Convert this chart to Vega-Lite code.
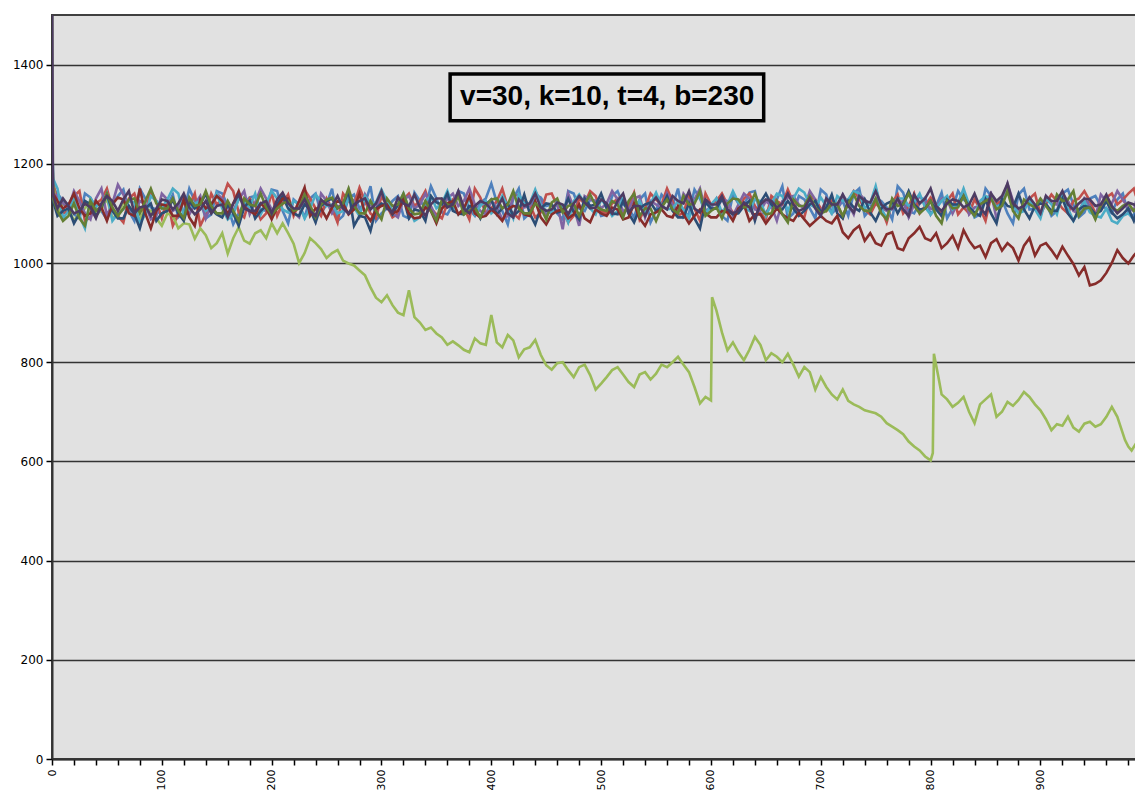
{
"$schema": "https://vega.github.io/schema/vega-lite/v6.json",
"width": 1084, "height": 744,
"autosize": {"type": "none"},
"padding": {"left": 52, "top": 15, "right": 0, "bottom": 33},
"background": "white",
"config": {"view": {"fill": "#E1E1E1", "stroke": "#404040", "strokeWidth": 2}, "font": "DejaVu Sans"},
"layer": [
{
"data": {"values": [
{"x":0,"a":1275,"b":1230,"c":1230,"d":1160,"e":1270,"f":1220,"g":1235,"h":1200,"i":1500},
{"x":1,"a":1150,"b":1165,"c":1160,"d":1140,"e":1170,"f":1125,"g":1140,"h":1130,"i":1135},
{"x":5,"a":1140,"b":1120,"c":1100,"d":1135,"e":1150,"f":1095,"g":1125,"h":1105,"i":1110},
{"x":10,"a":1125,"b":1100,"c":1120,"d":1120,"e":1090,"f":1105,"g":1110,"h":1085,"i":1130},
{"x":15,"a":1118,"b":1105,"c":1110,"d":1110,"e":1105,"f":1110,"g":1118,"h":1095,"i":1115},
{"x":20,"a":1098,"b":1135,"c":1085,"d":1145,"e":1128,"f":1080,"g":1140,"h":1120,"i":1100},
{"x":25,"a":1090,"b":1145,"c":1100,"d":1125,"e":1095,"f":1100,"g":1110,"h":1090,"i":1105},
{"x":30,"a":1140,"b":1085,"c":1110,"d":1100,"e":1070,"f":1125,"g":1095,"h":1075,"i":1120},
{"x":35,"a":1132,"b":1092,"c":1125,"d":1088,"e":1130,"f":1118,"g":1100,"h":1125,"i":1112},
{"x":40,"a":1110,"b":1120,"c":1095,"d":1130,"e":1115,"f":1095,"g":1125,"h":1105,"i":1090},
{"x":45,"a":1105,"b":1128,"c":1108,"d":1150,"e":1118,"f":1112,"g":1112,"h":1115,"i":1120},
{"x":50,"a":1088,"b":1150,"c":1130,"d":1095,"e":1140,"f":1138,"g":1085,"h":1140,"i":1135},
{"x":55,"a":1120,"b":1110,"c":1090,"d":1120,"e":1085,"f":1105,"g":1118,"h":1112,"i":1125},
{"x":60,"a":1135,"b":1095,"c":1100,"d":1158,"e":1100,"f":1090,"g":1132,"h":1095,"i":1105},
{"x":65,"a":1148,"b":1082,"c":1122,"d":1138,"e":1108,"f":1090,"g":1128,"h":1110,"i":1128},
{"x":70,"a":1105,"b":1130,"c":1115,"d":1110,"e":1125,"f":1115,"g":1100,"h":1128,"i":1145},
{"x":75,"a":1085,"b":1140,"c":1098,"d":1100,"e":1122,"f":1098,"g":1095,"h":1130,"i":1100},
{"x":80,"a":1150,"b":1108,"c":1088,"d":1125,"e":1080,"f":1070,"g":1150,"h":1100,"i":1112},
{"x":85,"a":1130,"b":1100,"c":1110,"d":1118,"e":1098,"f":1110,"g":1100,"h":1125,"i":1115},
{"x":90,"a":1112,"b":1145,"c":1105,"d":1088,"e":1135,"f":1120,"g":1070,"h":1150,"i":1095},
{"x":95,"a":1108,"b":1125,"c":1090,"d":1095,"e":1125,"f":1085,"g":1105,"h":1120,"i":1110},
{"x":100,"a":1095,"b":1090,"c":1075,"d":1140,"e":1110,"f":1100,"g":1118,"h":1110,"i":1128},
{"x":105,"a":1115,"b":1130,"c":1100,"d":1128,"e":1128,"f":1105,"g":1115,"h":1110,"i":1125},
{"x":110,"a":1138,"b":1075,"c":1095,"d":1105,"e":1150,"f":1128,"g":1095,"h":1130,"i":1108},
{"x":115,"a":1092,"b":1098,"c":1070,"d":1112,"e":1140,"f":1100,"g":1095,"h":1105,"i":1120},
{"x":120,"a":1102,"b":1125,"c":1080,"d":1132,"e":1095,"f":1085,"g":1128,"h":1090,"i":1140},
{"x":125,"a":1150,"b":1115,"c":1078,"d":1098,"e":1108,"f":1125,"g":1092,"h":1132,"i":1112},
{"x":130,"a":1125,"b":1140,"c":1049,"d":1118,"e":1120,"f":1110,"g":1075,"h":1115,"i":1098},
{"x":135,"a":1125,"b":1075,"c":1070,"d":1135,"e":1125,"f":1118,"g":1128,"h":1118,"i":1108},
{"x":140,"a":1090,"b":1098,"c":1056,"d":1090,"e":1105,"f":1140,"g":1110,"h":1145,"i":1125},
{"x":145,"a":1098,"b":1140,"c":1030,"d":1118,"e":1115,"f":1108,"g":1118,"h":1115,"i":1100},
{"x":150,"a":1145,"b":1118,"c":1040,"d":1140,"e":1140,"f":1098,"g":1135,"h":1100,"i":1115},
{"x":155,"a":1140,"b":1128,"c":1060,"d":1130,"e":1110,"f":1092,"g":1125,"h":1100,"i":1118},
{"x":160,"a":1115,"b":1160,"c":1019,"d":1112,"e":1088,"f":1118,"g":1098,"h":1125,"i":1092},
{"x":165,"a":1078,"b":1145,"c":1050,"d":1105,"e":1098,"f":1100,"g":1120,"h":1105,"i":1120},
{"x":170,"a":1100,"b":1102,"c":1072,"d":1128,"e":1130,"f":1075,"g":1145,"h":1085,"i":1138},
{"x":175,"a":1120,"b":1092,"c":1045,"d":1145,"e":1125,"f":1112,"g":1112,"h":1130,"i":1110},
{"x":180,"a":1132,"b":1130,"c":1039,"d":1098,"e":1112,"f":1125,"g":1105,"h":1118,"i":1105},
{"x":185,"a":1135,"b":1118,"c":1060,"d":1122,"e":1140,"f":1090,"g":1098,"h":1115,"i":1105},
{"x":190,"a":1108,"b":1088,"c":1066,"d":1150,"e":1098,"f":1105,"g":1120,"h":1140,"i":1120},
{"x":195,"a":1105,"b":1100,"c":1050,"d":1130,"e":1120,"f":1115,"g":1110,"h":1112,"i":1125},
{"x":200,"a":1148,"b":1142,"c":1080,"d":1108,"e":1145,"f":1092,"g":1088,"h":1098,"i":1100},
{"x":205,"a":1145,"b":1095,"c":1060,"d":1112,"e":1130,"f":1118,"g":1112,"h":1110,"i":1128},
{"x":210,"a":1105,"b":1120,"c":1080,"d":1130,"e":1108,"f":1135,"g":1130,"h":1120,"i":1142},
{"x":215,"a":1080,"b":1138,"c":1060,"d":1125,"e":1102,"f":1110,"g":1130,"h":1125,"i":1120},
{"x":220,"a":1128,"b":1095,"c":1039,"d":1102,"e":1125,"f":1100,"g":1100,"h":1105,"i":1110},
{"x":225,"a":1118,"b":1120,"c":1000,"d":1092,"e":1118,"f":1095,"g":1125,"h":1110,"i":1110},
{"x":230,"a":1092,"b":1148,"c":1020,"d":1140,"e":1090,"f":1118,"g":1152,"h":1138,"i":1128},
{"x":235,"a":1130,"b":1130,"c":1050,"d":1118,"e":1110,"f":1108,"g":1095,"h":1115,"i":1105},
{"x":240,"a":1140,"b":1110,"c":1040,"d":1085,"e":1138,"f":1082,"g":1110,"h":1092,"i":1095},
{"x":245,"a":1100,"b":1095,"c":1028,"d":1140,"e":1125,"f":1115,"g":1110,"h":1118,"i":1128},
{"x":250,"a":1118,"b":1130,"c":1010,"d":1125,"e":1115,"f":1125,"g":1090,"h":1128,"i":1118},
{"x":255,"a":1150,"b":1110,"c":1020,"d":1100,"e":1118,"f":1130,"g":1112,"h":1132,"i":1115},
{"x":260,"a":1085,"b":1082,"c":1026,"d":1115,"e":1100,"f":1110,"g":1125,"h":1110,"i":1135},
{"x":265,"a":1095,"b":1140,"c":1005,"d":1110,"e":1105,"f":1118,"g":1120,"h":1120,"i":1110},
{"x":270,"a":1130,"b":1125,"c":999,"d":1135,"e":1130,"f":1145,"g":1098,"h":1150,"i":1100},
{"x":275,"a":1138,"b":1118,"c":995,"d":1125,"e":1112,"f":1075,"g":1108,"h":1115,"i":1118},
{"x":280,"a":1110,"b":1152,"c":985,"d":1095,"e":1095,"f":1095,"g":1140,"h":1100,"i":1125},
{"x":285,"a":1120,"b":1125,"c":975,"d":1138,"e":1135,"f":1092,"g":1100,"h":1100,"i":1130},
{"x":290,"a":1155,"b":1100,"c":951,"d":1118,"e":1120,"f":1065,"g":1085,"h":1125,"i":1108},
{"x":295,"a":1085,"b":1090,"c":930,"d":1108,"e":1122,"f":1110,"g":1108,"h":1105,"i":1120},
{"x":300,"a":1100,"b":1135,"c":921,"d":1145,"e":1148,"f":1120,"g":1115,"h":1088,"i":1145},
{"x":305,"a":1110,"b":1115,"c":935,"d":1120,"e":1125,"f":1115,"g":1118,"h":1130,"i":1110},
{"x":310,"a":1125,"b":1092,"c":915,"d":1100,"e":1105,"f":1098,"g":1100,"h":1115,"i":1102},
{"x":315,"a":1135,"b":1100,"c":900,"d":1092,"e":1115,"f":1118,"g":1105,"h":1118,"i":1132},
{"x":320,"a":1095,"b":1128,"c":895,"d":1128,"e":1140,"f":1130,"g":1128,"h":1140,"i":1120},
{"x":325,"a":1090,"b":1140,"c":945,"d":1135,"e":1110,"f":1090,"g":1100,"h":1110,"i":1115},
{"x":330,"a":1142,"b":1115,"c":891,"d":1110,"e":1085,"f":1108,"g":1090,"h":1098,"i":1138},
{"x":335,"a":1125,"b":1125,"c":880,"d":1118,"e":1092,"f":1105,"g":1092,"h":1100,"i":1112},
{"x":340,"a":1112,"b":1145,"c":865,"d":1140,"e":1125,"f":1085,"g":1112,"h":1125,"i":1095},
{"x":345,"a":1155,"b":1110,"c":870,"d":1115,"e":1135,"f":1135,"g":1105,"h":1105,"i":1118},
{"x":350,"a":1130,"b":1098,"c":858,"d":1092,"e":1110,"f":1122,"g":1080,"h":1085,"i":1130},
{"x":355,"a":1102,"b":1090,"c":850,"d":1110,"e":1120,"f":1118,"g":1110,"h":1128,"i":1130},
{"x":360,"a":1098,"b":1120,"c":835,"d":1130,"e":1145,"f":1140,"g":1120,"h":1118,"i":1112},
{"x":365,"a":1118,"b":1128,"c":842,"d":1140,"e":1115,"f":1105,"g":1125,"h":1115,"i":1118},
{"x":370,"a":1145,"b":1140,"c":834,"d":1115,"e":1098,"f":1100,"g":1098,"h":1135,"i":1145},
{"x":375,"a":1140,"b":1112,"c":825,"d":1125,"e":1108,"f":1098,"g":1110,"h":1098,"i":1110},
{"x":380,"a":1108,"b":1088,"c":820,"d":1150,"e":1130,"f":1115,"g":1135,"h":1105,"i":1100},
{"x":385,"a":1095,"b":1150,"c":848,"d":1118,"e":1098,"f":1112,"g":1100,"h":1112,"i":1115},
{"x":390,"a":1122,"b":1132,"c":838,"d":1105,"e":1115,"f":1090,"g":1092,"h":1092,"i":1125},
{"x":395,"a":1130,"b":1098,"c":835,"d":1098,"e":1125,"f":1118,"g":1095,"h":1115,"i":1120},
{"x":400,"a":1160,"b":1110,"c":895,"d":1125,"e":1100,"f":1128,"g":1108,"h":1128,"i":1108},
{"x":405,"a":1122,"b":1125,"c":840,"d":1112,"e":1110,"f":1098,"g":1098,"h":1130,"i":1110},
{"x":410,"a":1105,"b":1150,"c":830,"d":1088,"e":1135,"f":1110,"g":1085,"h":1110,"i":1130},
{"x":415,"a":1078,"b":1112,"c":855,"d":1095,"e":1115,"f":1120,"g":1108,"h":1118,"i":1100},
{"x":420,"a":1130,"b":1100,"c":844,"d":1135,"e":1090,"f":1095,"g":1115,"h":1145,"i":1092},
{"x":425,"a":1150,"b":1090,"c":810,"d":1138,"e":1138,"f":1105,"g":1112,"h":1110,"i":1128},
{"x":430,"a":1090,"b":1125,"c":826,"d":1112,"e":1120,"f":1138,"g":1098,"h":1100,"i":1115},
{"x":435,"a":1100,"b":1118,"c":830,"d":1115,"e":1120,"f":1100,"g":1095,"h":1100,"i":1120},
{"x":440,"a":1138,"b":1092,"c":845,"d":1145,"e":1148,"f":1078,"g":1125,"h":1120,"i":1140},
{"x":445,"a":1132,"b":1102,"c":815,"d":1125,"e":1118,"f":1110,"g":1092,"h":1112,"i":1112},
{"x":450,"a":1115,"b":1138,"c":794,"d":1098,"e":1105,"f":1120,"g":1078,"h":1088,"i":1105},
{"x":455,"a":1118,"b":1140,"c":785,"d":1105,"e":1100,"f":1118,"g":1098,"h":1122,"i":1108},
{"x":460,"a":1100,"b":1115,"c":798,"d":1120,"e":1125,"f":1102,"g":1105,"h":1130,"i":1122},
{"x":465,"a":1088,"b":1110,"c":800,"d":1068,"e":1110,"f":1105,"g":1108,"h":1102,"i":1118},
{"x":470,"a":1145,"b":1082,"c":784,"d":1140,"e":1082,"f":1130,"g":1090,"h":1115,"i":1098},
{"x":475,"a":1140,"b":1095,"c":770,"d":1112,"e":1125,"f":1102,"g":1098,"h":1120,"i":1120},
{"x":480,"a":1110,"b":1130,"c":790,"d":1075,"e":1138,"f":1088,"g":1118,"h":1095,"i":1135},
{"x":485,"a":1105,"b":1120,"c":795,"d":1135,"e":1120,"f":1130,"g":1090,"h":1118,"i":1122},
{"x":490,"a":1128,"b":1145,"c":774,"d":1128,"e":1110,"f":1115,"g":1082,"h":1138,"i":1110},
{"x":495,"a":1125,"b":1135,"c":745,"d":1125,"e":1098,"f":1118,"g":1108,"h":1115,"i":1112},
{"x":500,"a":1095,"b":1105,"c":757,"d":1110,"e":1128,"f":1140,"g":1100,"h":1108,"i":1128},
{"x":505,"a":1098,"b":1100,"c":770,"d":1120,"e":1115,"f":1110,"g":1095,"h":1105,"i":1120},
{"x":510,"a":1135,"b":1120,"c":784,"d":1145,"e":1095,"f":1100,"g":1112,"h":1125,"i":1100},
{"x":515,"a":1145,"b":1130,"c":790,"d":1128,"e":1105,"f":1098,"g":1108,"h":1118,"i":1125},
{"x":520,"a":1118,"b":1098,"c":775,"d":1105,"e":1130,"f":1125,"g":1088,"h":1092,"i":1140},
{"x":525,"a":1110,"b":1115,"c":760,"d":1108,"e":1100,"f":1100,"g":1092,"h":1125,"i":1102},
{"x":530,"a":1092,"b":1142,"c":750,"d":1130,"e":1115,"f":1082,"g":1120,"h":1140,"i":1115},
{"x":535,"a":1128,"b":1088,"c":775,"d":1135,"e":1125,"f":1110,"g":1090,"h":1095,"i":1115},
{"x":540,"a":1140,"b":1110,"c":780,"d":1092,"e":1100,"f":1118,"g":1075,"h":1110,"i":1095},
{"x":545,"a":1082,"b":1140,"c":765,"d":1125,"e":1120,"f":1122,"g":1098,"h":1110,"i":1118},
{"x":550,"a":1105,"b":1128,"c":777,"d":1118,"e":1142,"f":1105,"g":1102,"h":1085,"i":1132},
{"x":555,"a":1138,"b":1118,"c":795,"d":1110,"e":1115,"f":1112,"g":1108,"h":1112,"i":1115},
{"x":560,"a":1125,"b":1150,"c":790,"d":1140,"e":1108,"f":1135,"g":1095,"h":1128,"i":1108},
{"x":565,"a":1115,"b":1125,"c":800,"d":1118,"e":1110,"f":1105,"g":1092,"h":1108,"i":1135},
{"x":570,"a":1150,"b":1095,"c":811,"d":1100,"e":1125,"f":1092,"g":1115,"h":1100,"i":1125},
{"x":575,"a":1092,"b":1102,"c":795,"d":1140,"e":1108,"f":1092,"g":1098,"h":1135,"i":1120},
{"x":580,"a":1100,"b":1135,"c":780,"d":1125,"e":1090,"f":1120,"g":1080,"h":1118,"i":1145},
{"x":585,"a":1148,"b":1110,"c":750,"d":1128,"e":1125,"f":1090,"g":1095,"h":1120,"i":1110},
{"x":590,"a":1130,"b":1085,"c":717,"d":1150,"e":1135,"f":1070,"g":1108,"h":1145,"i":1102},
{"x":595,"a":1102,"b":1140,"c":730,"d":1105,"e":1098,"f":1122,"g":1100,"h":1095,"i":1128},
{"x":600,"a":1112,"b":1118,"c":723,"d":1112,"e":1118,"f":1110,"g":1092,"h":1105,"i":1118},
{"x":601,"c":931},
{"x":605,"a":1130,"b":1125,"c":904,"d":1110,"e":1130,"f":1110,"g":1092,"h":1112,"i":1118},
{"x":610,"a":1095,"b":1140,"c":860,"d":1128,"e":1102,"f":1130,"g":1105,"h":1090,"i":1135},
{"x":615,"a":1085,"b":1118,"c":824,"d":1125,"e":1118,"f":1105,"g":1102,"h":1120,"i":1108},
{"x":620,"a":1138,"b":1102,"c":840,"d":1095,"e":1145,"f":1098,"g":1085,"h":1130,"i":1100},
{"x":625,"a":1120,"b":1105,"c":820,"d":1118,"e":1122,"f":1100,"g":1110,"h":1128,"i":1105},
{"x":630,"a":1115,"b":1130,"c":804,"d":1140,"e":1112,"f":1115,"g":1118,"h":1112,"i":1122},
{"x":635,"a":1142,"b":1140,"c":825,"d":1130,"e":1105,"f":1125,"g":1085,"h":1115,"i":1112},
{"x":640,"a":1145,"b":1115,"c":851,"d":1108,"e":1128,"f":1085,"g":1098,"h":1140,"i":1090},
{"x":645,"a":1098,"b":1100,"c":835,"d":1105,"e":1125,"f":1122,"g":1098,"h":1112,"i":1118},
{"x":650,"a":1102,"b":1088,"c":804,"d":1125,"e":1095,"f":1140,"g":1080,"h":1098,"i":1128},
{"x":655,"a":1115,"b":1135,"c":818,"d":1115,"e":1120,"f":1118,"g":1095,"h":1100,"i":1125},
{"x":660,"a":1128,"b":1125,"c":811,"d":1085,"e":1140,"f":1108,"g":1110,"h":1125,"i":1112},
{"x":665,"a":1155,"b":1118,"c":800,"d":1125,"e":1135,"f":1108,"g":1098,"h":1098,"i":1120},
{"x":670,"a":1090,"b":1148,"c":817,"d":1132,"e":1105,"f":1125,"g":1090,"h":1082,"i":1140},
{"x":675,"a":1100,"b":1122,"c":795,"d":1135,"e":1130,"f":1110,"g":1085,"h":1128,"i":1118},
{"x":680,"a":1135,"b":1098,"c":771,"d":1118,"e":1150,"f":1095,"g":1102,"h":1115,"i":1105},
{"x":685,"a":1128,"b":1092,"c":790,"d":1110,"e":1142,"f":1105,"g":1088,"h":1115,"i":1110},
{"x":690,"a":1110,"b":1135,"c":780,"d":1145,"e":1118,"f":1118,"g":1075,"h":1135,"i":1130},
{"x":695,"a":1090,"b":1128,"c":745,"d":1128,"e":1112,"f":1125,"g":1085,"h":1112,"i":1110},
{"x":700,"a":1148,"b":1110,"c":770,"d":1100,"e":1132,"f":1102,"g":1095,"h":1100,"i":1095},
{"x":705,"a":1138,"b":1105,"c":750,"d":1130,"e":1115,"f":1112,"g":1085,"h":1105,"i":1130},
{"x":710,"a":1100,"b":1128,"c":735,"d":1115,"e":1100,"f":1138,"g":1080,"h":1120,"i":1118},
{"x":715,"a":1110,"b":1118,"c":725,"d":1105,"e":1135,"f":1100,"g":1095,"h":1118,"i":1118},
{"x":720,"a":1125,"b":1092,"c":745,"d":1138,"e":1125,"f":1090,"g":1062,"h":1095,"i":1138},
{"x":725,"a":1095,"b":1125,"c":722,"d":1120,"e":1128,"f":1125,"g":1050,"h":1120,"i":1115},
{"x":730,"a":1140,"b":1145,"c":715,"d":1098,"e":1145,"f":1112,"g":1066,"h":1138,"i":1102},
{"x":735,"a":1150,"b":1130,"c":710,"d":1140,"e":1140,"f":1105,"g":1075,"h":1115,"i":1135},
{"x":740,"a":1095,"b":1108,"c":703,"d":1128,"e":1110,"f":1128,"g":1045,"h":1105,"i":1125},
{"x":745,"a":1108,"b":1098,"c":700,"d":1118,"e":1120,"f":1102,"g":1060,"h":1105,"i":1122},
{"x":750,"a":1130,"b":1120,"c":697,"d":1150,"e":1155,"f":1085,"g":1040,"h":1130,"i":1145},
{"x":755,"a":1125,"b":1110,"c":690,"d":1112,"e":1110,"f":1110,"g":1035,"h":1100,"i":1118},
{"x":760,"a":1112,"b":1082,"c":677,"d":1105,"e":1090,"f":1120,"g":1058,"h":1088,"i":1108},
{"x":765,"a":1088,"b":1122,"c":670,"d":1108,"e":1118,"f":1125,"g":1062,"h":1130,"i":1110},
{"x":770,"a":1155,"b":1138,"c":663,"d":1120,"e":1130,"f":1100,"g":1030,"h":1115,"i":1130},
{"x":775,"a":1142,"b":1100,"c":655,"d":1125,"e":1130,"f":1120,"g":1026,"h":1118,"i":1108},
{"x":780,"a":1105,"b":1115,"c":640,"d":1092,"e":1115,"f":1145,"g":1050,"h":1140,"i":1095},
{"x":785,"a":1100,"b":1140,"c":630,"d":1118,"e":1122,"f":1118,"g":1060,"h":1115,"i":1138},
{"x":790,"a":1120,"b":1100,"c":622,"d":1135,"e":1140,"f":1108,"g":1073,"h":1100,"i":1120},
{"x":795,"a":1132,"b":1115,"c":610,"d":1122,"e":1112,"f":1110,"g":1050,"h":1110,"i":1130},
{"x":800,"a":1098,"b":1132,"c":602,"d":1110,"e":1098,"f":1125,"g":1045,"h":1125,"i":1150},
{"x":802,"c":617},
{"x":803,"c":817},
{"x":805,"a":1115,"b":1118,"d":1108,"e":1110,"f":1108,"g":1060,"h":1095,"i":1115},
{"x":807,"c":771},
{"x":810,"a":1142,"b":1095,"c":735,"d":1130,"e":1125,"f":1095,"g":1030,"h":1080,"i":1105},
{"x":815,"a":1090,"b":1125,"c":725,"d":1130,"e":1135,"f":1128,"g":1040,"h":1125,"i":1120},
{"x":820,"a":1110,"b":1140,"c":710,"d":1100,"e":1108,"f":1118,"g":1055,"h":1110,"i":1128},
{"x":825,"a":1145,"b":1098,"c":718,"d":1122,"e":1120,"f":1118,"g":1030,"h":1112,"i":1125},
{"x":830,"a":1128,"b":1112,"c":730,"d":1145,"e":1150,"f":1135,"g":1066,"h":1135,"i":1112},
{"x":835,"a":1120,"b":1100,"c":700,"d":1098,"e":1118,"f":1112,"g":1045,"h":1108,"i":1118},
{"x":840,"a":1092,"b":1128,"c":677,"d":1112,"e":1095,"f":1102,"g":1030,"h":1095,"i":1140},
{"x":845,"a":1098,"b":1110,"c":715,"d":1115,"e":1125,"f":1095,"g":1035,"h":1118,"i":1112},
{"x":850,"a":1150,"b":1085,"c":725,"d":1125,"e":1135,"f":1128,"g":1012,"h":1125,"i":1098},
{"x":855,"a":1135,"b":1135,"c":735,"d":1140,"e":1130,"f":1100,"g":1040,"h":1130,"i":1140},
{"x":860,"a":1115,"b":1120,"c":690,"d":1090,"e":1112,"f":1080,"g":1048,"h":1108,"i":1125},
{"x":865,"a":1128,"b":1125,"c":700,"d":1118,"e":1120,"f":1130,"g":1025,"h":1115,"i":1135},
{"x":870,"a":1100,"b":1145,"c":720,"d":1160,"e":1145,"f":1115,"g":1040,"h":1145,"i":1160},
{"x":875,"a":1080,"b":1120,"c":712,"d":1125,"e":1118,"f":1112,"g":1030,"h":1105,"i":1120},
{"x":880,"a":1138,"b":1105,"c":724,"d":1108,"e":1100,"f":1140,"g":1005,"h":1090,"i":1110},
{"x":885,"a":1150,"b":1112,"c":740,"d":1108,"e":1105,"f":1108,"g":1035,"h":1128,"i":1115},
{"x":890,"a":1108,"b":1130,"c":730,"d":1132,"e":1128,"f":1090,"g":1050,"h":1118,"i":1132},
{"x":895,"a":1110,"b":1140,"c":715,"d":1112,"e":1108,"f":1115,"g":1015,"h":1112,"i":1118},
{"x":900,"a":1125,"b":1098,"c":703,"d":1095,"e":1090,"f":1120,"g":1035,"h":1130,"i":1100},
{"x":905,"a":1122,"b":1120,"c":685,"d":1135,"e":1130,"f":1118,"g":1040,"h":1115,"i":1135},
{"x":910,"a":1095,"b":1138,"c":663,"d":1120,"e":1118,"f":1105,"g":1026,"h":1100,"i":1125},
{"x":915,"a":1105,"b":1125,"c":675,"d":1118,"e":1098,"f":1105,"g":1010,"h":1138,"i":1125},
{"x":920,"a":1140,"b":1110,"c":672,"d":1140,"e":1140,"f":1130,"g":1033,"h":1125,"i":1145},
{"x":925,"a":1148,"b":1100,"c":690,"d":1125,"e":1110,"f":1100,"g":1015,"h":1128,"i":1118},
{"x":930,"a":1118,"b":1125,"c":668,"d":1105,"e":1085,"f":1085,"g":998,"h":1145,"i":1108},
{"x":935,"a":1092,"b":1130,"c":660,"d":1100,"e":1105,"f":1108,"g":975,"h":1095,"i":1120},
{"x":940,"a":1102,"b":1145,"c":676,"d":1130,"e":1125,"f":1115,"g":992,"h":1110,"i":1130},
{"x":945,"a":1130,"b":1125,"c":680,"d":1115,"e":1102,"f":1112,"g":955,"h":1112,"i":1128},
{"x":950,"a":1135,"b":1100,"c":670,"d":1092,"e":1095,"f":1098,"g":958,"h":1088,"i":1115},
{"x":955,"a":1115,"b":1112,"c":675,"d":1138,"e":1092,"f":1105,"g":965,"h":1118,"i":1118},
{"x":960,"a":1110,"b":1132,"c":690,"d":1125,"e":1110,"f":1125,"g":980,"h":1130,"i":1138},
{"x":965,"a":1100,"b":1140,"c":710,"d":1120,"e":1085,"f":1102,"g":1000,"h":1112,"i":1115},
{"x":970,"a":1128,"b":1118,"c":690,"d":1145,"e":1080,"f":1090,"g":1026,"h":1105,"i":1100},
{"x":975,"a":1140,"b":1128,"d":1128,"e":1095,"f":1098,"g":1010,"h":1115,"i":1110},
{"x":977,"c":643},
{"x":980,"a":1100,"b":1140,"c":630,"d":1110,"e":1100,"f":1110,"g":999,"h":1120,"i":1122},
{"x":983,"c":622},
{"x":985,"a":1095,"b":1150,"d":1105,"e":1088,"f":1085,"g":1015,"h":1105,"i":1118},
{"x":987,"a":1120,"b":1135,"c":636,"d":1125,"e":1090,"f":1100,"g":1020,"h":1110,"i":1115}
]},
"transform": [
{"fold": ["a","b","c","d","e","f","g","h","i"], "as": ["s","y"]},
{"filter": "isValid(datum.y)"}
],
"mark": {"type": "line", "strokeWidth": 2.6, "clip": true},
"encoding": {
"x": {"field": "x", "type": "quantitative",
"scale": {"domain": [0, 987], "nice": false, "zero": false},
"axis": {"title": null, "grid": false, "tickCount": 100,
"values": [0,20,40,60,80,100,120,140,160,180,200,220,240,260,280,300,320,340,360,380,400,420,440,460,480,500,520,540,560,580,600,620,640,660,680,700,720,740,760,780,800,820,840,860,880,900,920,940,960,980],
"labelExpr": "datum.value % 100 === 0 ? datum.label : ''",
"labelAngle": -90, "labelFontSize": 11, "labelColor": "black", "labelPadding": 4,
"labelFlush": false, "labelOverlap": false,
"tickColor": "black", "tickSize": 6, "tickWidth": 1.5,
"domainColor": "#333333", "domainWidth": 2}},
"y": {"field": "y", "type": "quantitative",
"scale": {"domain": [0, 1500], "nice": false},
"axis": {"title": null, "values": [0,200,400,600,800,1000,1200,1400], "format": "d",
"grid": true, "gridColor": "#333333", "gridWidth": 1.5, "gridOpacity": 1,
"labelFontSize": 12, "labelColor": "black", "labelPadding": 3,
"tickColor": "black", "tickSize": 6, "tickWidth": 1.5,
"domainColor": "#333333", "domainWidth": 2}},
"color": {"field": "s", "type": "nominal", "legend": null,
"scale": {"domain": ["a","b","c","d","e","f","g","h","i"],
"range": ["#4F81BD","#C0504D","#9BBB59","#8064A2","#4BACC6","#2C4D75","#862C2A","#647F34","#4D3B62"]}}
}
},
{
"data": {"values": [{}]},
"mark": {"type": "rect", "fill": "#E1E1E1", "stroke": "black", "strokeWidth": 3.5},
"encoding": {
"x": {"datum": 362.5, "type": "quantitative"},
"x2": {"datum": 648},
"y": {"datum": 1287, "type": "quantitative"},
"y2": {"datum": 1381}
}
},
{
"data": {"values": [{}]},
"mark": {"type": "text", "text": "v=30, k=10, t=4, b=230", "font": "Liberation Sans", "fontWeight": "bold", "fontSize": 28, "color": "black", "align": "center", "baseline": "middle"},
"encoding": {
"x": {"datum": 505.5, "type": "quantitative"},
"y": {"datum": 1334, "type": "quantitative"}
}
}
]
}
